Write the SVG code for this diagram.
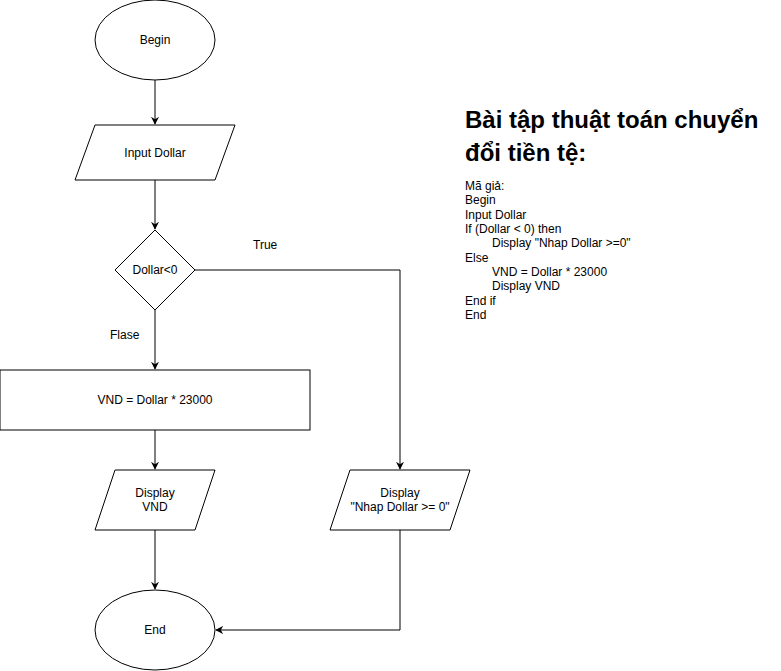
<svg xmlns="http://www.w3.org/2000/svg" width="781" height="671" viewBox="0 0 781 671">
<style>
.s{fill:#fff;stroke:#000;stroke-width:1}
.c{fill:none;stroke:#000;stroke-width:1}
.t{font-family:"Liberation Sans",Arial,sans-serif;font-size:12px;fill:#000;text-anchor:middle}
.l{font-family:"Liberation Sans",Arial,sans-serif;font-size:12px;fill:#000}
.h{font-family:"Liberation Sans",Arial,sans-serif;font-size:24px;font-weight:bold;fill:#000}
.b{font-family:"Liberation Sans",Arial,sans-serif;font-size:12px;fill:#000}
</style>
<defs>
<marker id="a" viewBox="0 0 10 10" refX="9" refY="5" markerWidth="8" markerHeight="8" markerUnits="userSpaceOnUse" orient="auto">
<path d="M0,0 L10,5 L0,10 L3,5 Z" fill="#000"/>
</marker>
</defs>
<rect width="781" height="671" fill="#fff"/>
<g id="connectors">
<path class="c" d="M155,80 V124" marker-end="url(#a)"/>
<path class="c" d="M155,180 V229" marker-end="url(#a)"/>
<path class="c" d="M155,310 V369" marker-end="url(#a)"/>
<path class="c" d="M195,270 H400 V469" marker-end="url(#a)"/>
<path class="c" d="M155,430 V469" marker-end="url(#a)"/>
<path class="c" d="M155,530 V589" marker-end="url(#a)"/>
<path class="c" d="M400,530 V630 H216" marker-end="url(#a)"/>
<text class="l" x="253" y="249">True</text>
<text class="l" x="110" y="339">Flase</text>
</g>
<g id="begin">
<ellipse class="s" cx="155" cy="40" rx="60" ry="40"/>
<text class="t" x="155" y="44">Begin</text>
</g>
<g id="input">
<path class="s" d="M95,125 H235 L215,180 H75 Z"/>
<text class="t" x="155" y="157">Input Dollar</text>
</g>
<g id="decision">
<path class="s" d="M155,230 L195,270 L155,310 L115,270 Z"/>
<text class="t" x="155" y="274">Dollar&lt;0</text>
</g>
<g id="calc">
<rect class="s" x="0" y="370" width="310" height="60"/>
<text class="t" x="155" y="404">VND = Dollar * 23000</text>
</g>
<g id="displayVND">
<path class="s" d="M115,470 H215 L195,530 H95 Z"/>
<text class="t" x="155" y="497">Display</text>
<text class="t" x="155" y="511">VND</text>
</g>
<g id="displayMsg">
<path class="s" d="M350,470 H470 L450,530 H330 Z"/>
<text class="t" x="400" y="497">Display</text>
<text class="t" x="400" y="511">"Nhap Dollar &gt;= 0"</text>
</g>
<g id="end">
<ellipse class="s" cx="155" cy="630" rx="60" ry="40"/>
<text class="t" x="155" y="634">End</text>
</g>
<g id="note">
<text class="h" x="465" y="128">Bài tập thuật toán chuyển</text>
<text class="h" x="465" y="161">đổi tiền tệ:</text>
<text class="b" x="465" y="190">Mã giả:</text>
<text class="b" x="465" y="204">Begin</text>
<text class="b" x="465" y="219">Input Dollar</text>
<text class="b" x="465" y="233">If (Dollar &lt; 0) then</text>
<text class="b" x="492" y="247">Display "Nhap Dollar &gt;=0"</text>
<text class="b" x="465" y="262">Else</text>
<text class="b" x="492" y="276">VND = Dollar * 23000</text>
<text class="b" x="492" y="290">Display VND</text>
<text class="b" x="465" y="305">End if</text>
<text class="b" x="465" y="319">End</text>
</g>
</svg>
